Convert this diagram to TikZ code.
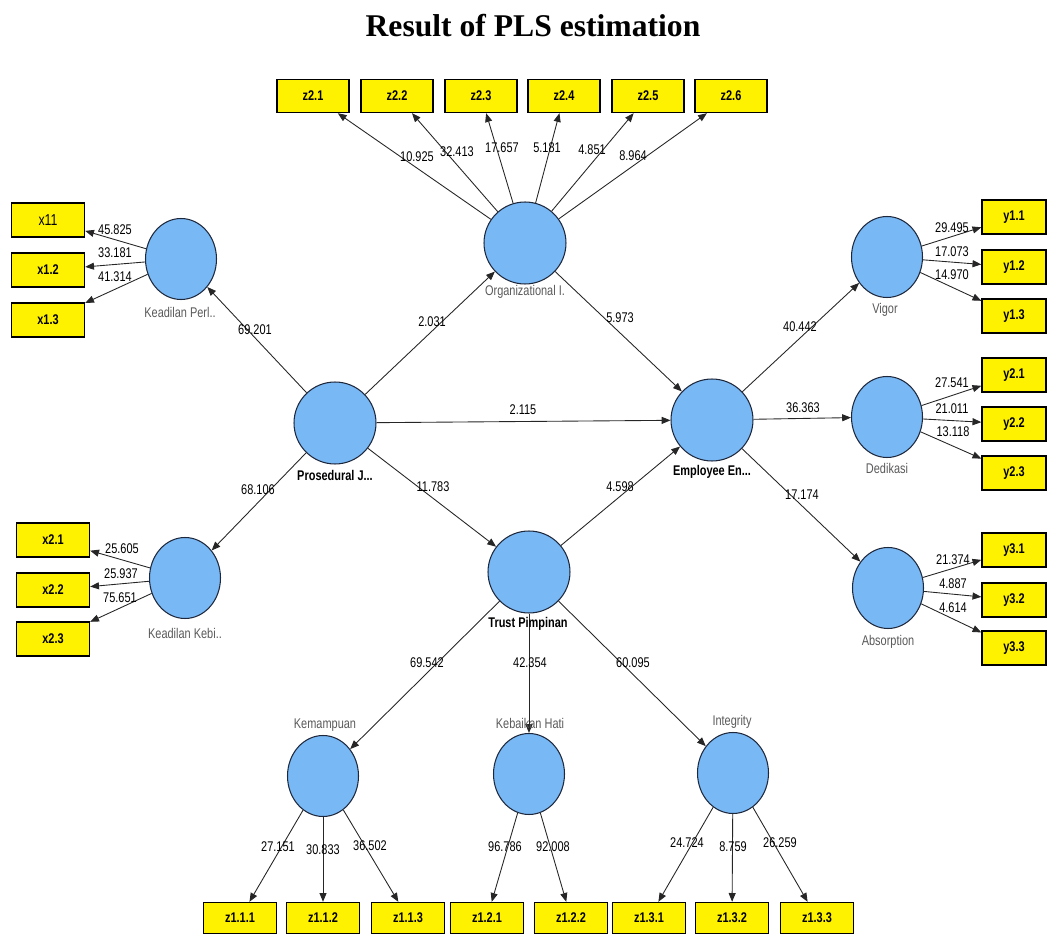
\documentclass[tikz,border=0pt]{standalone}
\usepackage{fontspec}
\setmainfont{Liberation Serif}
\newfontfamily\plsfont[FakeStretch=0.78]{Liberation Sans}
\usetikzlibrary{shapes}
\usetikzlibrary{arrows.meta}

\definecolor{lvblue}{RGB}{120,184,245}
\definecolor{lvline}{RGB}{30,40,60}

\tikzset{
  lv/.style={draw=lvline, fill=lvblue, circle, minimum size=1.64cm,
    inner sep=0pt, line width=0.6pt},
  dim/.style={draw=lvline, fill=lvblue, ellipse, minimum width=1.42cm,
    minimum height=1.62cm, inner sep=0pt, line width=0.6pt},
  ind/.style={draw=black, fill=yellow, rectangle, minimum width=1.46cm,
    minimum height=0.68cm, inner sep=0pt, line width=0.8pt,
    font=\plsfont\bfseries\fontsize{8}{9}\selectfont},
  val/.style={inner sep=0pt, font=\plsfont\fontsize{8}{9}\selectfont},
  lvname/.style={inner sep=0pt, text=black!65,
    font=\plsfont\fontsize{8}{9}\selectfont},
  mainname/.style={inner sep=0pt, text=black,
    font=\plsfont\bfseries\fontsize{8}{9}\selectfont},
  link/.style={draw=black!85, line width=0.5pt,
    -{Triangle[length=5pt,width=4pt]}}
}

\begin{document}
\begin{tikzpicture}[x=0.02cm, y=-0.02cm]
\useasboundingbox (0,0) rectangle (1049,935);

\node[font=\bfseries\fontsize{18}{21}\selectfont] (title) at (533,26)
  {Result of PLS estimation};

% latent variables
\node[lv] (PJ) at (335,423) {};
\node[lv] (OL) at (525,243) {};
\node[lv] (EE) at (712,420) {};
\node[lv] (TP) at (529,572) {};
\node[dim] (KP) at (181,259) {};
\node[dim] (KK) at (185,578) {};
\node[dim] (VG) at (887,257) {};
\node[dim] (DD) at (887,417) {};
\node[dim] (AB) at (888,588) {};
\node[dim] (KM) at (323,776) {};
\node[dim] (KH) at (529,774) {};
\node[dim] (IN) at (733,773) {};

% indicators
\node[ind, minimum width=1.44cm, minimum height=0.66cm] (z21) at (313,96) {z2.1};
\node[ind, minimum width=1.44cm, minimum height=0.66cm] (z22) at (397,96) {z2.2};
\node[ind, minimum width=1.44cm, minimum height=0.66cm] (z23) at (481,96) {z2.3};
\node[ind, minimum width=1.44cm, minimum height=0.66cm] (z24) at (564,96) {z2.4};
\node[ind, minimum width=1.44cm, minimum height=0.66cm] (z25) at (648,96) {z2.5};
\node[ind, minimum width=1.44cm, minimum height=0.66cm] (z26) at (731,96) {z2.6};

\node[ind, font=\plsfont\fontsize{9}{10}\selectfont] (x11) at (48,220) {x11};
\node[ind] (x12) at (48,270) {x1.2};
\node[ind] (x13) at (48,320) {x1.3};
\node[ind] (x21) at (53,540) {x2.1};
\node[ind] (x22) at (53,590) {x2.2};
\node[ind] (x23) at (53,639) {x2.3};

\node[ind, minimum width=1.28cm] (y11) at (1014,217) {y1.1};
\node[ind, minimum width=1.28cm] (y12) at (1014,267) {y1.2};
\node[ind, minimum width=1.28cm] (y13) at (1014,316) {y1.3};
\node[ind, minimum width=1.28cm] (y21) at (1014,375) {y2.1};
\node[ind, minimum width=1.28cm] (y22) at (1014,424) {y2.2};
\node[ind, minimum width=1.28cm] (y23) at (1014,473) {y2.3};
\node[ind, minimum width=1.28cm] (y31) at (1014,550) {y3.1};
\node[ind, minimum width=1.28cm] (y32) at (1014,600) {y3.2};
\node[ind, minimum width=1.28cm] (y33) at (1014,648) {y3.3};

\node[ind, minimum height=0.62cm] (z111) at (240,918) {z1.1.1};
\node[ind, minimum height=0.62cm] (z112) at (323,918) {z1.1.2};
\node[ind, minimum height=0.62cm] (z113) at (408,918) {z1.1.3};
\node[ind, minimum height=0.62cm] (z121) at (487,918) {z1.2.1};
\node[ind, minimum height=0.62cm] (z122) at (571,918) {z1.2.2};
\node[ind, minimum height=0.62cm] (z131) at (649,918) {z1.3.1};
\node[ind, minimum height=0.62cm] (z132) at (732,918) {z1.3.2};
\node[ind, minimum height=0.62cm] (z133) at (817,918) {z1.3.3};

% inner model
\draw[link] (PJ) -- (KP);
\draw[link] (PJ) -- (KK);
\draw[link] (PJ) -- (OL);
\draw[link] (PJ) -- (EE);
\draw[link] (PJ) -- (TP);
\draw[link] (OL) -- (EE);
\draw[link] (TP) -- (EE);
\draw[link] (EE) -- (VG);
\draw[link] (EE) -- (DD);
\draw[link] (EE) -- (AB);
\draw[link] (TP) -- (KM);
\draw[link] (TP) -- (KH);
\draw[link] (TP) -- (IN);

% outer model
\draw[link] (OL) -- (z21);
\draw[link] (OL) -- (z22);
\draw[link] (OL) -- (z23);
\draw[link] (OL) -- (z24);
\draw[link] (OL) -- (z25);
\draw[link] (OL) -- (z26);
\draw[link] (KP) -- (x11);
\draw[link] (KP) -- (x12);
\draw[link] (KP) -- (x13);
\draw[link] (KK) -- (x21);
\draw[link] (KK) -- (x22);
\draw[link] (KK) -- (x23);
\draw[link] (VG) -- (y11);
\draw[link] (VG) -- (y12);
\draw[link] (VG) -- (y13);
\draw[link] (DD) -- (y21);
\draw[link] (DD) -- (y22);
\draw[link] (DD) -- (y23);
\draw[link] (AB) -- (y31);
\draw[link] (AB) -- (y32);
\draw[link] (AB) -- (y33);
\draw[link] (KM) -- (z111);
\draw[link] (KM) -- (z112);
\draw[link] (KM) -- (z113);
\draw[link] (KH) -- (z121);
\draw[link] (KH) -- (z122);
\draw[link] (IN) -- (z131);
\draw[link] (IN) -- (z132);
\draw[link] (IN) -- (z133);

% construct names
\node[mainname] (PJl) at (335,475) {Prosedural J...};
\node[lvname] (OLl) at (525,292) {Organizational I.};
\node[mainname] (EEl) at (712,472) {Employee En...};
\node[mainname] (TPl) at (528,624) {Trust Pimpinan};
\node[lvname] (KPl) at (180,312) {Keadilan Perl..};
\node[lvname] (KKl) at (185,633) {Keadilan Kebi..};
\node[lvname] (VGl) at (885,310) {Vigor};
\node[lvname] (DDl) at (887,468) {Dedikasi};
\node[lvname] (ABl) at (888,642) {Absorption};
\node[lvname] (KMl) at (325,725) {Kemampuan};
\node[lvname] (KHl) at (530,723) {Kebaikan Hati};
\node[lvname] (INl) at (732,722) {Integrity};

% path values
\node[val] (vKP) at (255,330) {69.201};
\node[val] (vKK) at (258,490) {68.106};
\node[val] (vOL) at (432,322) {2.031};
\node[val] (vOE) at (620,318) {5.973};
\node[val] (vPE) at (523,410) {2.115};
\node[val] (vPT) at (433,487) {11.783};
\node[val] (vTE) at (620,487) {4.598};
\node[val] (vVG) at (800,327) {40.442};
\node[val] (vDD) at (803,408) {36.363};
\node[val] (vAB) at (802,495) {17.174};
\node[val] (vKM) at (427,663) {69.542};
\node[val] (vKH) at (530,663) {42.354};
\node[val] (vIN) at (633,663) {60.095};

% loading values
\node[val] (lz21) at (417,157) {10.925};
\node[val] (lz22) at (457,152) {32.413};
\node[val] (lz23) at (502,148) {17.657};
\node[val] (lz24) at (547,148) {5.181};
\node[val] (lz25) at (592,150) {4.851};
\node[val] (lz26) at (633,156) {8.964};
\node[val] (lx11) at (115,230) {45.825};
\node[val] (lx12) at (115,253) {33.181};
\node[val] (lx13) at (115,277) {41.314};
\node[val] (lx21) at (122,549) {25.605};
\node[val] (lx22) at (121,574) {25.937};
\node[val] (lx23) at (120,598) {75.651};
\node[val] (ly11) at (952,228) {29.495};
\node[val] (ly12) at (952,252) {17.073};
\node[val] (ly13) at (952,275) {14.970};
\node[val] (ly21) at (952,383) {27.541};
\node[val] (ly22) at (952,409) {21.011};
\node[val] (ly23) at (953,432) {13.118};
\node[val] (ly31) at (953,560) {21.374};
\node[val] (ly32) at (953,584) {4.887};
\node[val] (ly33) at (953,608) {4.614};
\node[val] (lz111) at (278,847) {27.151};
\node[val] (lz112) at (323,850) {30.833};
\node[val] (lz113) at (370,846) {36.502};
\node[val] (lz121) at (505,847) {96.786};
\node[val] (lz122) at (553,847) {92.008};
\node[val] (lz131) at (687,843) {24.724};
\node[val] (lz132) at (733,847) {8.759};
\node[val] (lz133) at (780,843) {26.259};
\end{tikzpicture}
\end{document}
